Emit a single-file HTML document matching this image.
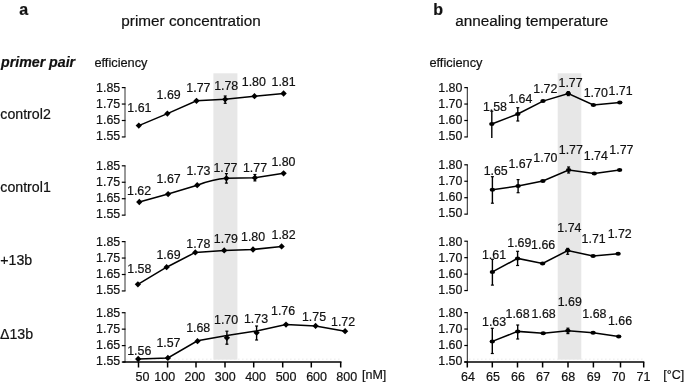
<!DOCTYPE html>
<html><head><meta charset="utf-8"><style>
html,body{margin:0;padding:0;background:#fff;}
svg{display:block;font-family:"Liberation Sans", sans-serif;will-change:transform;} text{stroke:#111;stroke-width:0.2px;}
</style></head><body>
<svg width="685" height="385" viewBox="0 0 685 385">
<rect width="685" height="385" fill="#fff"/>
<rect x="213.4" y="73.3" width="24.0" height="286.3" fill="#e7e7e7"/>
<rect x="557.7" y="73.3" width="23.6" height="286.3" fill="#e7e7e7"/>
<text x="19.3" y="14.5" font-size="16" text-anchor="start" font-weight="bold" font-style="normal" fill="#111">a</text>
<text x="433.2" y="14.5" font-size="16" text-anchor="start" font-weight="bold" font-style="normal" fill="#111">b</text>
<text x="121.3" y="25.6" font-size="15.3" text-anchor="start" font-weight="normal" font-style="normal" fill="#111">primer concentration</text>
<text x="455.2" y="25.6" font-size="15.3" text-anchor="start" font-weight="normal" font-style="normal" fill="#111">annealing temperature</text>
<text x="1.0" y="66.6" font-size="14.2" text-anchor="start" font-weight="bold" font-style="italic" fill="#111">primer pair</text>
<text x="94.4" y="67.2" font-size="12.8" text-anchor="start" font-weight="normal" font-style="normal" fill="#111">efficiency</text>
<text x="429.4" y="67.2" font-size="12.8" text-anchor="start" font-weight="normal" font-style="normal" fill="#111">efficiency</text>
<text x="0.3" y="118.8" font-size="14.2" text-anchor="start" font-weight="normal" font-style="normal" fill="#111">control2</text>
<text x="0.3" y="191.6" font-size="14.2" text-anchor="start" font-weight="normal" font-style="normal" fill="#111">control1</text>
<text x="0.3" y="264.9" font-size="14.2" text-anchor="start" font-weight="normal" font-style="normal" fill="#111">+13b</text>
<text x="0.0" y="338.9" font-size="14.2" text-anchor="start" font-weight="normal" font-style="normal" fill="#111">&#916;13b</text>
<line x1="125.0" y1="87.6" x2="125.0" y2="136.95" stroke="#333" stroke-width="1"/>
<line x1="121.8" y1="87.6" x2="125.5" y2="87.6" stroke="#000" stroke-width="1.2"/>
<text x="120.2" y="92.25" font-size="12.4" text-anchor="end" font-weight="normal" font-style="normal" fill="#111">1.85</text>
<line x1="121.8" y1="104.05" x2="125.5" y2="104.05" stroke="#000" stroke-width="1.2"/>
<text x="120.2" y="108.25" font-size="12.4" text-anchor="end" font-weight="normal" font-style="normal" fill="#111">1.75</text>
<line x1="121.8" y1="120.5" x2="125.5" y2="120.5" stroke="#000" stroke-width="1.2"/>
<text x="120.2" y="124.25" font-size="12.4" text-anchor="end" font-weight="normal" font-style="normal" fill="#111">1.65</text>
<line x1="121.8" y1="136.95" x2="125.5" y2="136.95" stroke="#000" stroke-width="1.2"/>
<text x="120.2" y="140.25" font-size="12.4" text-anchor="end" font-weight="normal" font-style="normal" fill="#111">1.55</text>
<line x1="125.0" y1="165.8" x2="125.0" y2="215.15" stroke="#333" stroke-width="1"/>
<line x1="121.8" y1="165.8" x2="125.5" y2="165.8" stroke="#000" stroke-width="1.2"/>
<text x="120.2" y="170.45" font-size="12.4" text-anchor="end" font-weight="normal" font-style="normal" fill="#111">1.85</text>
<line x1="121.8" y1="182.25" x2="125.5" y2="182.25" stroke="#000" stroke-width="1.2"/>
<text x="120.2" y="186.45" font-size="12.4" text-anchor="end" font-weight="normal" font-style="normal" fill="#111">1.75</text>
<line x1="121.8" y1="198.70000000000002" x2="125.5" y2="198.70000000000002" stroke="#000" stroke-width="1.2"/>
<text x="120.2" y="202.45" font-size="12.4" text-anchor="end" font-weight="normal" font-style="normal" fill="#111">1.65</text>
<line x1="121.8" y1="215.15" x2="125.5" y2="215.15" stroke="#000" stroke-width="1.2"/>
<text x="120.2" y="218.45" font-size="12.4" text-anchor="end" font-weight="normal" font-style="normal" fill="#111">1.55</text>
<line x1="125.0" y1="241.6" x2="125.0" y2="290.95" stroke="#333" stroke-width="1"/>
<line x1="121.8" y1="241.6" x2="125.5" y2="241.6" stroke="#000" stroke-width="1.2"/>
<text x="120.2" y="246.24999999999997" font-size="12.4" text-anchor="end" font-weight="normal" font-style="normal" fill="#111">1.85</text>
<line x1="121.8" y1="258.05" x2="125.5" y2="258.05" stroke="#000" stroke-width="1.2"/>
<text x="120.2" y="262.24999999999994" font-size="12.4" text-anchor="end" font-weight="normal" font-style="normal" fill="#111">1.75</text>
<line x1="121.8" y1="274.5" x2="125.5" y2="274.5" stroke="#000" stroke-width="1.2"/>
<text x="120.2" y="278.24999999999994" font-size="12.4" text-anchor="end" font-weight="normal" font-style="normal" fill="#111">1.65</text>
<line x1="121.8" y1="290.95" x2="125.5" y2="290.95" stroke="#000" stroke-width="1.2"/>
<text x="120.2" y="294.24999999999994" font-size="12.4" text-anchor="end" font-weight="normal" font-style="normal" fill="#111">1.55</text>
<line x1="125.0" y1="312.7" x2="125.0" y2="362.04999999999995" stroke="#333" stroke-width="1"/>
<line x1="121.8" y1="312.7" x2="125.5" y2="312.7" stroke="#000" stroke-width="1.2"/>
<text x="120.2" y="317.34999999999997" font-size="12.4" text-anchor="end" font-weight="normal" font-style="normal" fill="#111">1.85</text>
<line x1="121.8" y1="329.15" x2="125.5" y2="329.15" stroke="#000" stroke-width="1.2"/>
<text x="120.2" y="333.34999999999997" font-size="12.4" text-anchor="end" font-weight="normal" font-style="normal" fill="#111">1.75</text>
<line x1="121.8" y1="345.59999999999997" x2="125.5" y2="345.59999999999997" stroke="#000" stroke-width="1.2"/>
<text x="120.2" y="349.34999999999997" font-size="12.4" text-anchor="end" font-weight="normal" font-style="normal" fill="#111">1.65</text>
<line x1="121.8" y1="362.04999999999995" x2="125.5" y2="362.04999999999995" stroke="#000" stroke-width="1.2"/>
<text x="120.2" y="365.34999999999997" font-size="12.4" text-anchor="end" font-weight="normal" font-style="normal" fill="#111">1.55</text>
<line x1="467.3" y1="87.6" x2="467.3" y2="136.95" stroke="#222" stroke-width="1"/>
<line x1="464.3" y1="87.6" x2="467.8" y2="87.6" stroke="#000" stroke-width="1.2"/>
<text x="462.4" y="92.25" font-size="12.4" text-anchor="end" font-weight="normal" font-style="normal" fill="#111">1.80</text>
<line x1="464.3" y1="104.05" x2="467.8" y2="104.05" stroke="#000" stroke-width="1.2"/>
<text x="462.4" y="108.25" font-size="12.4" text-anchor="end" font-weight="normal" font-style="normal" fill="#111">1.70</text>
<line x1="464.3" y1="120.5" x2="467.8" y2="120.5" stroke="#000" stroke-width="1.2"/>
<text x="462.4" y="124.25" font-size="12.4" text-anchor="end" font-weight="normal" font-style="normal" fill="#111">1.60</text>
<line x1="464.3" y1="136.95" x2="467.8" y2="136.95" stroke="#000" stroke-width="1.2"/>
<text x="462.4" y="140.25" font-size="12.4" text-anchor="end" font-weight="normal" font-style="normal" fill="#111">1.50</text>
<line x1="467.3" y1="164.8" x2="467.3" y2="214.15" stroke="#222" stroke-width="1"/>
<line x1="464.3" y1="164.8" x2="467.8" y2="164.8" stroke="#000" stroke-width="1.2"/>
<text x="462.4" y="169.45" font-size="12.4" text-anchor="end" font-weight="normal" font-style="normal" fill="#111">1.80</text>
<line x1="464.3" y1="181.25" x2="467.8" y2="181.25" stroke="#000" stroke-width="1.2"/>
<text x="462.4" y="185.45" font-size="12.4" text-anchor="end" font-weight="normal" font-style="normal" fill="#111">1.70</text>
<line x1="464.3" y1="197.70000000000002" x2="467.8" y2="197.70000000000002" stroke="#000" stroke-width="1.2"/>
<text x="462.4" y="201.45" font-size="12.4" text-anchor="end" font-weight="normal" font-style="normal" fill="#111">1.60</text>
<line x1="464.3" y1="214.15" x2="467.8" y2="214.15" stroke="#000" stroke-width="1.2"/>
<text x="462.4" y="217.45" font-size="12.4" text-anchor="end" font-weight="normal" font-style="normal" fill="#111">1.50</text>
<line x1="467.3" y1="241.2" x2="467.3" y2="290.54999999999995" stroke="#222" stroke-width="1"/>
<line x1="464.3" y1="241.2" x2="467.8" y2="241.2" stroke="#000" stroke-width="1.2"/>
<text x="462.4" y="245.84999999999997" font-size="12.4" text-anchor="end" font-weight="normal" font-style="normal" fill="#111">1.80</text>
<line x1="464.3" y1="257.65" x2="467.8" y2="257.65" stroke="#000" stroke-width="1.2"/>
<text x="462.4" y="261.84999999999997" font-size="12.4" text-anchor="end" font-weight="normal" font-style="normal" fill="#111">1.70</text>
<line x1="464.3" y1="274.09999999999997" x2="467.8" y2="274.09999999999997" stroke="#000" stroke-width="1.2"/>
<text x="462.4" y="277.84999999999997" font-size="12.4" text-anchor="end" font-weight="normal" font-style="normal" fill="#111">1.60</text>
<line x1="464.3" y1="290.54999999999995" x2="467.8" y2="290.54999999999995" stroke="#000" stroke-width="1.2"/>
<text x="462.4" y="293.84999999999997" font-size="12.4" text-anchor="end" font-weight="normal" font-style="normal" fill="#111">1.50</text>
<line x1="467.3" y1="312.6" x2="467.3" y2="361.95000000000005" stroke="#222" stroke-width="1"/>
<line x1="464.3" y1="312.6" x2="467.8" y2="312.6" stroke="#000" stroke-width="1.2"/>
<text x="462.4" y="317.25" font-size="12.4" text-anchor="end" font-weight="normal" font-style="normal" fill="#111">1.80</text>
<line x1="464.3" y1="329.05" x2="467.8" y2="329.05" stroke="#000" stroke-width="1.2"/>
<text x="462.4" y="333.25" font-size="12.4" text-anchor="end" font-weight="normal" font-style="normal" fill="#111">1.70</text>
<line x1="464.3" y1="345.5" x2="467.8" y2="345.5" stroke="#000" stroke-width="1.2"/>
<text x="462.4" y="349.25" font-size="12.4" text-anchor="end" font-weight="normal" font-style="normal" fill="#111">1.60</text>
<line x1="464.3" y1="361.95000000000005" x2="467.8" y2="361.95000000000005" stroke="#000" stroke-width="1.2"/>
<text x="462.4" y="365.25" font-size="12.4" text-anchor="end" font-weight="normal" font-style="normal" fill="#111">1.50</text>
<line x1="122.6" y1="362.1" x2="341.5" y2="362.1" stroke="#000" stroke-width="1.5"/>
<line x1="126" y1="359.2" x2="341" y2="359.2" stroke="#ebebeb" stroke-width="0.9" stroke-dasharray="1.6 2.4"/>
<line x1="469" y1="359.2" x2="643" y2="359.2" stroke="#ebebeb" stroke-width="0.9" stroke-dasharray="1.6 2.4"/>
<line x1="138.5" y1="362.1" x2="138.5" y2="367.5" stroke="#000" stroke-width="1.5"/>
<line x1="167.6" y1="362.1" x2="167.6" y2="367.5" stroke="#000" stroke-width="1.5"/>
<line x1="196.0" y1="362.1" x2="196.0" y2="367.5" stroke="#000" stroke-width="1.5"/>
<line x1="225.0" y1="362.1" x2="225.0" y2="367.5" stroke="#000" stroke-width="1.5"/>
<line x1="253.7" y1="362.1" x2="253.7" y2="367.5" stroke="#000" stroke-width="1.5"/>
<line x1="282.7" y1="362.1" x2="282.7" y2="367.5" stroke="#000" stroke-width="1.5"/>
<line x1="311.3" y1="362.1" x2="311.3" y2="367.5" stroke="#000" stroke-width="1.5"/>
<line x1="340.7" y1="362.1" x2="340.7" y2="367.5" stroke="#000" stroke-width="1.5"/>
<text x="142.5" y="381.1" font-size="12.5" text-anchor="middle" font-weight="normal" font-style="normal" fill="#111">50</text>
<text x="164.8" y="381.1" font-size="12.5" text-anchor="middle" font-weight="normal" font-style="normal" fill="#111">100</text>
<text x="194.9" y="381.1" font-size="12.5" text-anchor="middle" font-weight="normal" font-style="normal" fill="#111">200</text>
<text x="225.3" y="381.1" font-size="12.5" text-anchor="middle" font-weight="normal" font-style="normal" fill="#111">300</text>
<text x="255.6" y="381.1" font-size="12.5" text-anchor="middle" font-weight="normal" font-style="normal" fill="#111">400</text>
<text x="286.1" y="381.1" font-size="12.5" text-anchor="middle" font-weight="normal" font-style="normal" fill="#111">500</text>
<text x="316.6" y="381.1" font-size="12.5" text-anchor="middle" font-weight="normal" font-style="normal" fill="#111">600</text>
<text x="346.7" y="381.1" font-size="12.5" text-anchor="middle" font-weight="normal" font-style="normal" fill="#111">800</text>
<text x="362.0" y="379.3" font-size="12.5" text-anchor="start" font-weight="normal" font-style="normal" fill="#111">[nM]</text>
<line x1="464.3" y1="362.1" x2="644.3" y2="362.1" stroke="#000" stroke-width="1.5"/>
<line x1="467.3" y1="362.1" x2="467.3" y2="367.5" stroke="#000" stroke-width="1.5"/>
<line x1="492.3" y1="362.1" x2="492.3" y2="367.5" stroke="#000" stroke-width="1.5"/>
<line x1="517.5" y1="362.1" x2="517.5" y2="367.5" stroke="#000" stroke-width="1.5"/>
<line x1="542.6" y1="362.1" x2="542.6" y2="367.5" stroke="#000" stroke-width="1.5"/>
<line x1="568.0" y1="362.1" x2="568.0" y2="367.5" stroke="#000" stroke-width="1.5"/>
<line x1="593.4" y1="362.1" x2="593.4" y2="367.5" stroke="#000" stroke-width="1.5"/>
<line x1="620.5" y1="362.1" x2="620.5" y2="367.5" stroke="#000" stroke-width="1.5"/>
<line x1="643.7" y1="362.1" x2="643.7" y2="367.5" stroke="#000" stroke-width="1.5"/>
<text x="467.9" y="381.1" font-size="12.5" text-anchor="middle" font-weight="normal" font-style="normal" fill="#111">64</text>
<text x="493" y="381.1" font-size="12.5" text-anchor="middle" font-weight="normal" font-style="normal" fill="#111">65</text>
<text x="518" y="381.1" font-size="12.5" text-anchor="middle" font-weight="normal" font-style="normal" fill="#111">66</text>
<text x="543" y="381.1" font-size="12.5" text-anchor="middle" font-weight="normal" font-style="normal" fill="#111">67</text>
<text x="568.3" y="381.1" font-size="12.5" text-anchor="middle" font-weight="normal" font-style="normal" fill="#111">68</text>
<text x="593.7" y="381.1" font-size="12.5" text-anchor="middle" font-weight="normal" font-style="normal" fill="#111">69</text>
<text x="618.6" y="381.1" font-size="12.5" text-anchor="middle" font-weight="normal" font-style="normal" fill="#111">70</text>
<text x="643.5" y="381.1" font-size="12.5" text-anchor="middle" font-weight="normal" font-style="normal" fill="#111">71</text>
<text x="663.2" y="378.7" font-size="12.5" text-anchor="start" font-weight="normal" font-style="normal" fill="#111">[&#176;C]</text>
<path d="M138.80 125.60 L167.40 113.60 L196.50 100.80 L225.20 99.30 L254.50 96.20 L283.60 93.50" fill="none" stroke="#000" stroke-width="1.55"/>
<line x1="225.2" y1="96.0" x2="225.2" y2="103.3" stroke="#000" stroke-width="1.4"/>
<line x1="223.7" y1="96.0" x2="226.7" y2="96.0" stroke="#000" stroke-width="1.2"/>
<line x1="223.7" y1="103.3" x2="226.7" y2="103.3" stroke="#000" stroke-width="1.2"/>
<path d="M135.65 125.60L138.80 122.45L141.95 125.60L138.80 128.75Z" fill="#000"/>
<path d="M164.25 113.60L167.40 110.45L170.55 113.60L167.40 116.75Z" fill="#000"/>
<path d="M193.35 100.80L196.50 97.65L199.65 100.80L196.50 103.95Z" fill="#000"/>
<path d="M222.05 99.30L225.20 96.15L228.35 99.30L225.20 102.45Z" fill="#000"/>
<path d="M251.35 96.20L254.50 93.05L257.65 96.20L254.50 99.35Z" fill="#000"/>
<path d="M280.45 93.50L283.60 90.35L286.75 93.50L283.60 96.65Z" fill="#000"/>
<text x="139.4" y="112" font-size="12.4" text-anchor="middle" font-weight="normal" font-style="normal" fill="#111">1.61</text>
<text x="168.65" y="99.3" font-size="12.4" text-anchor="middle" font-weight="normal" font-style="normal" fill="#111">1.69</text>
<text x="198.4" y="92" font-size="12.4" text-anchor="middle" font-weight="normal" font-style="normal" fill="#111">1.77</text>
<text x="226.2" y="89.5" font-size="12.4" text-anchor="middle" font-weight="normal" font-style="normal" fill="#111">1.78</text>
<text x="253.85" y="86.2" font-size="12.4" text-anchor="middle" font-weight="normal" font-style="normal" fill="#111">1.80</text>
<text x="283.6" y="86.2" font-size="12.4" text-anchor="middle" font-weight="normal" font-style="normal" fill="#111">1.81</text>
<path d="M139.3 202.0 L168.1 194.1 L197.2 185.2 Q213 179.2 226.4 178.3 L254.9 177.8 L283.6 173.3" fill="none" stroke="#000" stroke-width="1.55"/>
<line x1="226.4" y1="173.6" x2="226.4" y2="183.1" stroke="#000" stroke-width="1.4"/>
<line x1="224.9" y1="173.6" x2="227.9" y2="173.6" stroke="#000" stroke-width="1.2"/>
<line x1="224.9" y1="183.1" x2="227.9" y2="183.1" stroke="#000" stroke-width="1.2"/>
<line x1="254.9" y1="174.5" x2="254.9" y2="180.9" stroke="#000" stroke-width="1.4"/>
<line x1="253.4" y1="174.5" x2="256.4" y2="174.5" stroke="#000" stroke-width="1.2"/>
<line x1="253.4" y1="180.9" x2="256.4" y2="180.9" stroke="#000" stroke-width="1.2"/>
<path d="M136.15 202.00L139.30 198.85L142.45 202.00L139.30 205.15Z" fill="#000"/>
<path d="M164.95 194.10L168.10 190.95L171.25 194.10L168.10 197.25Z" fill="#000"/>
<path d="M194.05 185.20L197.20 182.05L200.35 185.20L197.20 188.35Z" fill="#000"/>
<path d="M223.25 178.30L226.40 175.15L229.55 178.30L226.40 181.45Z" fill="#000"/>
<path d="M251.75 177.80L254.90 174.65L258.05 177.80L254.90 180.95Z" fill="#000"/>
<path d="M280.45 173.30L283.60 170.15L286.75 173.30L283.60 176.45Z" fill="#000"/>
<text x="139.05" y="194.5" font-size="12.4" text-anchor="middle" font-weight="normal" font-style="normal" fill="#111">1.62</text>
<text x="168.65" y="183.2" font-size="12.4" text-anchor="middle" font-weight="normal" font-style="normal" fill="#111">1.67</text>
<text x="198.45" y="175.1" font-size="12.4" text-anchor="middle" font-weight="normal" font-style="normal" fill="#111">1.73</text>
<text x="225.45" y="171.8" font-size="12.4" text-anchor="middle" font-weight="normal" font-style="normal" fill="#111">1.77</text>
<text x="255.0" y="171.8" font-size="12.4" text-anchor="middle" font-weight="normal" font-style="normal" fill="#111">1.77</text>
<text x="283.45" y="166.4" font-size="12.4" text-anchor="middle" font-weight="normal" font-style="normal" fill="#111">1.80</text>
<path d="M137.90 284.30 L166.60 267.20 L195.30 252.40 L224.20 250.40 L253.00 249.50 L281.60 246.40" fill="none" stroke="#000" stroke-width="1.55"/>
<path d="M134.75 284.30L137.90 281.15L141.05 284.30L137.90 287.45Z" fill="#000"/>
<path d="M163.45 267.20L166.60 264.05L169.75 267.20L166.60 270.35Z" fill="#000"/>
<path d="M192.15 252.40L195.30 249.25L198.45 252.40L195.30 255.55Z" fill="#000"/>
<path d="M221.05 250.40L224.20 247.25L227.35 250.40L224.20 253.55Z" fill="#000"/>
<path d="M249.85 249.50L253.00 246.35L256.15 249.50L253.00 252.65Z" fill="#000"/>
<path d="M278.45 246.40L281.60 243.25L284.75 246.40L281.60 249.55Z" fill="#000"/>
<text x="139.3" y="273" font-size="12.4" text-anchor="middle" font-weight="normal" font-style="normal" fill="#111">1.58</text>
<text x="168.5" y="259" font-size="12.4" text-anchor="middle" font-weight="normal" font-style="normal" fill="#111">1.69</text>
<text x="198.35" y="247.7" font-size="12.4" text-anchor="middle" font-weight="normal" font-style="normal" fill="#111">1.78</text>
<text x="225.9" y="242.5" font-size="12.4" text-anchor="middle" font-weight="normal" font-style="normal" fill="#111">1.79</text>
<text x="253.05" y="241.1" font-size="12.4" text-anchor="middle" font-weight="normal" font-style="normal" fill="#111">1.80</text>
<text x="283.55" y="238.7" font-size="12.4" text-anchor="middle" font-weight="normal" font-style="normal" fill="#111">1.82</text>
<path d="M138.20 359.00 L167.90 357.90 L197.50 340.80 L226.90 335.40 L256.60 331.00 L286.00 324.60 L315.60 325.90 L345.10 331.20" fill="none" stroke="#000" stroke-width="1.55"/>
<line x1="226.9" y1="331.2" x2="226.9" y2="344.2" stroke="#000" stroke-width="1.4"/>
<line x1="225.4" y1="331.2" x2="228.4" y2="331.2" stroke="#000" stroke-width="1.2"/>
<line x1="225.4" y1="344.2" x2="228.4" y2="344.2" stroke="#000" stroke-width="1.2"/>
<line x1="256.6" y1="326.0" x2="256.6" y2="340.0" stroke="#000" stroke-width="1.4"/>
<line x1="255.10000000000002" y1="326.0" x2="258.1" y2="326.0" stroke="#000" stroke-width="1.2"/>
<line x1="255.10000000000002" y1="340.0" x2="258.1" y2="340.0" stroke="#000" stroke-width="1.2"/>
<path d="M135.05 359.00L138.20 355.85L141.35 359.00L138.20 362.15Z" fill="#000"/>
<path d="M164.75 357.90L167.90 354.75L171.05 357.90L167.90 361.05Z" fill="#000"/>
<path d="M194.35 341.20L197.50 338.05L200.65 341.20L197.50 344.35Z" fill="#000"/>
<path d="M223.75 337.80L226.90 334.65L230.05 337.80L226.90 340.95Z" fill="#000"/>
<path d="M253.45 332.70L256.60 329.55L259.75 332.70L256.60 335.85Z" fill="#000"/>
<path d="M282.85 324.60L286.00 321.45L289.15 324.60L286.00 327.75Z" fill="#000"/>
<path d="M312.45 325.90L315.60 322.75L318.75 325.90L315.60 329.05Z" fill="#000"/>
<path d="M341.95 331.20L345.10 328.05L348.25 331.20L345.10 334.35Z" fill="#000"/>
<text x="139.25" y="354.9" font-size="12.4" text-anchor="middle" font-weight="normal" font-style="normal" fill="#111">1.56</text>
<text x="168.45" y="346.9" font-size="12.4" text-anchor="middle" font-weight="normal" font-style="normal" fill="#111">1.57</text>
<text x="198.2" y="332.4" font-size="12.4" text-anchor="middle" font-weight="normal" font-style="normal" fill="#111">1.68</text>
<text x="226.1" y="324.2" font-size="12.4" text-anchor="middle" font-weight="normal" font-style="normal" fill="#111">1.70</text>
<text x="256.0" y="322.9" font-size="12.4" text-anchor="middle" font-weight="normal" font-style="normal" fill="#111">1.73</text>
<text x="283.1" y="315.1" font-size="12.4" text-anchor="middle" font-weight="normal" font-style="normal" fill="#111">1.76</text>
<text x="314.0" y="321.3" font-size="12.4" text-anchor="middle" font-weight="normal" font-style="normal" fill="#111">1.75</text>
<text x="343.1" y="325.6" font-size="12.4" text-anchor="middle" font-weight="normal" font-style="normal" fill="#111">1.72</text>
<path d="M491.80 124.00 L517.80 114.00 L543.00 101.10 L568.30 93.60 L593.40 104.90 L619.80 102.40" fill="none" stroke="#000" stroke-width="1.55"/>
<line x1="491.8" y1="111.2" x2="491.8" y2="137.9" stroke="#000" stroke-width="1.4"/>
<line x1="490.3" y1="111.2" x2="493.3" y2="111.2" stroke="#000" stroke-width="1.2"/>
<line x1="517.8" y1="107.7" x2="517.8" y2="121" stroke="#000" stroke-width="1.4"/>
<line x1="516.3" y1="107.7" x2="519.3" y2="107.7" stroke="#000" stroke-width="1.2"/>
<line x1="516.3" y1="121" x2="519.3" y2="121" stroke="#000" stroke-width="1.2"/>
<line x1="568.3" y1="91.6" x2="568.3" y2="95.6" stroke="#000" stroke-width="1.4"/>
<line x1="566.8" y1="91.6" x2="569.8" y2="91.6" stroke="#000" stroke-width="1.2"/>
<line x1="566.8" y1="95.6" x2="569.8" y2="95.6" stroke="#000" stroke-width="1.2"/>
<ellipse cx="491.80" cy="124.00" rx="2.7" ry="2.0" fill="#000"/>
<ellipse cx="517.80" cy="114.00" rx="2.7" ry="2.0" fill="#000"/>
<ellipse cx="543.00" cy="101.10" rx="2.7" ry="2.0" fill="#000"/>
<ellipse cx="568.30" cy="93.60" rx="2.7" ry="2.0" fill="#000"/>
<ellipse cx="593.40" cy="104.90" rx="2.7" ry="2.0" fill="#000"/>
<ellipse cx="619.80" cy="102.40" rx="2.7" ry="2.0" fill="#000"/>
<text x="494.95" y="110.7" font-size="12.4" text-anchor="middle" font-weight="normal" font-style="normal" fill="#111">1.58</text>
<text x="520.3" y="103" font-size="12.4" text-anchor="middle" font-weight="normal" font-style="normal" fill="#111">1.64</text>
<text x="545.35" y="93.1" font-size="12.4" text-anchor="middle" font-weight="normal" font-style="normal" fill="#111">1.72</text>
<text x="570.55" y="87.2" font-size="12.4" text-anchor="middle" font-weight="normal" font-style="normal" fill="#111">1.77</text>
<text x="595.75" y="96.8" font-size="12.4" text-anchor="middle" font-weight="normal" font-style="normal" fill="#111">1.70</text>
<text x="620.6" y="95.1" font-size="12.4" text-anchor="middle" font-weight="normal" font-style="normal" fill="#111">1.71</text>
<path d="M492.40 189.70 L518.10 186.00 L542.90 180.90 L568.60 170.10 L594.30 173.40 L619.60 170.10" fill="none" stroke="#000" stroke-width="1.55"/>
<line x1="492.4" y1="176.7" x2="492.4" y2="203.2" stroke="#000" stroke-width="1.4"/>
<line x1="490.9" y1="176.7" x2="493.9" y2="176.7" stroke="#000" stroke-width="1.2"/>
<line x1="490.9" y1="203.2" x2="493.9" y2="203.2" stroke="#000" stroke-width="1.2"/>
<line x1="518.1" y1="179.6" x2="518.1" y2="192.7" stroke="#000" stroke-width="1.4"/>
<line x1="516.6" y1="179.6" x2="519.6" y2="179.6" stroke="#000" stroke-width="1.2"/>
<line x1="516.6" y1="192.7" x2="519.6" y2="192.7" stroke="#000" stroke-width="1.2"/>
<line x1="568.6" y1="167" x2="568.6" y2="173" stroke="#000" stroke-width="1.4"/>
<line x1="567.1" y1="167" x2="570.1" y2="167" stroke="#000" stroke-width="1.2"/>
<line x1="567.1" y1="173" x2="570.1" y2="173" stroke="#000" stroke-width="1.2"/>
<ellipse cx="492.40" cy="189.70" rx="2.7" ry="2.0" fill="#000"/>
<ellipse cx="518.10" cy="186.00" rx="2.7" ry="2.0" fill="#000"/>
<ellipse cx="542.90" cy="180.90" rx="2.7" ry="2.0" fill="#000"/>
<ellipse cx="568.60" cy="170.10" rx="2.7" ry="2.0" fill="#000"/>
<ellipse cx="594.30" cy="173.40" rx="2.7" ry="2.0" fill="#000"/>
<ellipse cx="619.60" cy="170.10" rx="2.7" ry="2.0" fill="#000"/>
<text x="495.7" y="174.5" font-size="12.4" text-anchor="middle" font-weight="normal" font-style="normal" fill="#111">1.65</text>
<text x="520.45" y="167.7" font-size="12.4" text-anchor="middle" font-weight="normal" font-style="normal" fill="#111">1.67</text>
<text x="545.4" y="162.4" font-size="12.4" text-anchor="middle" font-weight="normal" font-style="normal" fill="#111">1.70</text>
<text x="570.8" y="154.4" font-size="12.4" text-anchor="middle" font-weight="normal" font-style="normal" fill="#111">1.77</text>
<text x="595.85" y="160.3" font-size="12.4" text-anchor="middle" font-weight="normal" font-style="normal" fill="#111">1.74</text>
<text x="621.4" y="154.4" font-size="12.4" text-anchor="middle" font-weight="normal" font-style="normal" fill="#111">1.77</text>
<path d="M492.40 271.90 L517.60 258.40 L542.60 263.50 L567.70 250.60 L593.10 256.00 L618.10 253.80" fill="none" stroke="#000" stroke-width="1.55"/>
<line x1="492.4" y1="259.3" x2="492.4" y2="285.1" stroke="#000" stroke-width="1.4"/>
<line x1="490.9" y1="259.3" x2="493.9" y2="259.3" stroke="#000" stroke-width="1.2"/>
<line x1="490.9" y1="285.1" x2="493.9" y2="285.1" stroke="#000" stroke-width="1.2"/>
<line x1="517.6" y1="251.3" x2="517.6" y2="265.5" stroke="#000" stroke-width="1.4"/>
<line x1="516.1" y1="251.3" x2="519.1" y2="251.3" stroke="#000" stroke-width="1.2"/>
<line x1="516.1" y1="265.5" x2="519.1" y2="265.5" stroke="#000" stroke-width="1.2"/>
<line x1="567.7" y1="248.4" x2="567.7" y2="254.3" stroke="#000" stroke-width="1.4"/>
<line x1="566.2" y1="248.4" x2="569.2" y2="248.4" stroke="#000" stroke-width="1.2"/>
<line x1="566.2" y1="254.3" x2="569.2" y2="254.3" stroke="#000" stroke-width="1.2"/>
<ellipse cx="492.40" cy="271.90" rx="2.7" ry="2.0" fill="#000"/>
<ellipse cx="517.60" cy="258.40" rx="2.7" ry="2.0" fill="#000"/>
<ellipse cx="542.60" cy="263.50" rx="2.7" ry="2.0" fill="#000"/>
<ellipse cx="567.70" cy="250.60" rx="2.7" ry="2.0" fill="#000"/>
<ellipse cx="593.10" cy="256.00" rx="2.7" ry="2.0" fill="#000"/>
<ellipse cx="618.10" cy="253.80" rx="2.7" ry="2.0" fill="#000"/>
<text x="494.0" y="258.7" font-size="12.4" text-anchor="middle" font-weight="normal" font-style="normal" fill="#111">1.61</text>
<text x="519.35" y="246.6" font-size="12.4" text-anchor="middle" font-weight="normal" font-style="normal" fill="#111">1.69</text>
<text x="543.15" y="249.1" font-size="12.4" text-anchor="middle" font-weight="normal" font-style="normal" fill="#111">1.66</text>
<text x="569.4" y="232.4" font-size="12.4" text-anchor="middle" font-weight="normal" font-style="normal" fill="#111">1.74</text>
<text x="593.65" y="242.5" font-size="12.4" text-anchor="middle" font-weight="normal" font-style="normal" fill="#111">1.71</text>
<text x="619.7" y="237.9" font-size="12.4" text-anchor="middle" font-weight="normal" font-style="normal" fill="#111">1.72</text>
<path d="M492.30 341.40 L517.70 331.40 L543.20 333.20 L567.90 330.70 L593.10 332.70 L618.70 336.40" fill="none" stroke="#000" stroke-width="1.55"/>
<line x1="492.3" y1="328.3" x2="492.3" y2="353.5" stroke="#000" stroke-width="1.4"/>
<line x1="490.8" y1="328.3" x2="493.8" y2="328.3" stroke="#000" stroke-width="1.2"/>
<line x1="490.8" y1="353.5" x2="493.8" y2="353.5" stroke="#000" stroke-width="1.2"/>
<line x1="517.7" y1="325" x2="517.7" y2="339" stroke="#000" stroke-width="1.4"/>
<line x1="516.2" y1="325" x2="519.2" y2="325" stroke="#000" stroke-width="1.2"/>
<line x1="516.2" y1="339" x2="519.2" y2="339" stroke="#000" stroke-width="1.2"/>
<line x1="567.9" y1="328.2" x2="567.9" y2="333.6" stroke="#000" stroke-width="1.4"/>
<line x1="566.4" y1="328.2" x2="569.4" y2="328.2" stroke="#000" stroke-width="1.2"/>
<line x1="566.4" y1="333.6" x2="569.4" y2="333.6" stroke="#000" stroke-width="1.2"/>
<ellipse cx="492.30" cy="341.40" rx="2.7" ry="2.0" fill="#000"/>
<ellipse cx="517.70" cy="331.40" rx="2.7" ry="2.0" fill="#000"/>
<ellipse cx="543.20" cy="333.20" rx="2.7" ry="2.0" fill="#000"/>
<ellipse cx="567.90" cy="330.70" rx="2.7" ry="2.0" fill="#000"/>
<ellipse cx="593.10" cy="332.70" rx="2.7" ry="2.0" fill="#000"/>
<ellipse cx="618.70" cy="336.40" rx="2.7" ry="2.0" fill="#000"/>
<text x="494.05" y="325.5" font-size="12.4" text-anchor="middle" font-weight="normal" font-style="normal" fill="#111">1.63</text>
<text x="517.55" y="317.7" font-size="12.4" text-anchor="middle" font-weight="normal" font-style="normal" fill="#111">1.68</text>
<text x="543.65" y="317.7" font-size="12.4" text-anchor="middle" font-weight="normal" font-style="normal" fill="#111">1.68</text>
<text x="569.75" y="306" font-size="12.4" text-anchor="middle" font-weight="normal" font-style="normal" fill="#111">1.69</text>
<text x="594.4" y="317.6" font-size="12.4" text-anchor="middle" font-weight="normal" font-style="normal" fill="#111">1.68</text>
<text x="620.0" y="324.5" font-size="12.4" text-anchor="middle" font-weight="normal" font-style="normal" fill="#111">1.66</text>
</svg>
</body></html>
